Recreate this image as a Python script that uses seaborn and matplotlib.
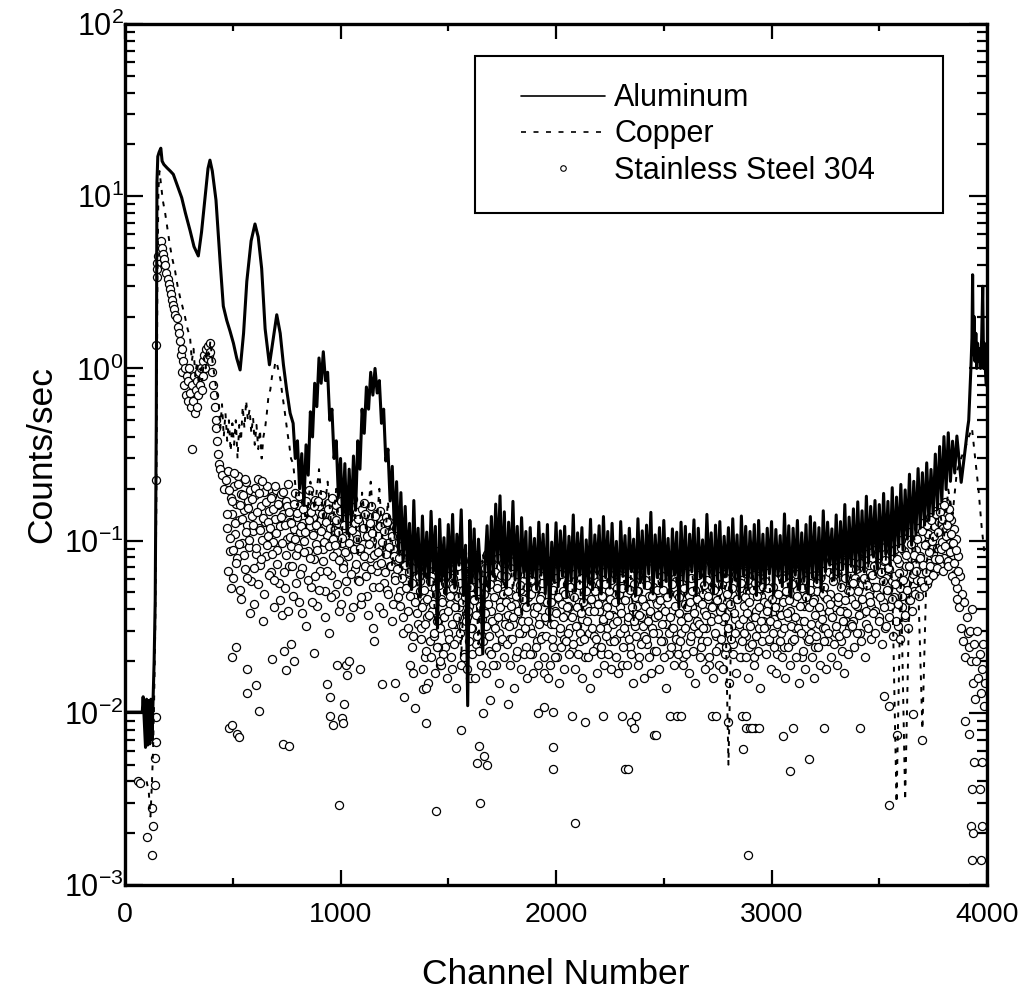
import numpy as np
import matplotlib
matplotlib.use("Agg")
import matplotlib.pyplot as plt
from matplotlib.lines import Line2D
from matplotlib.legend_handler import HandlerLine2D
from matplotlib.ticker import MultipleLocator, LogLocator, NullFormatter
import seaborn as sns

# ---------------- data (counts/sec vs channel) ----------------
# Aluminum: smooth low-channel part (explicit channels)
al_ch_a = [10, 40, 80, 84, 95, 100, 105, 110, 115, 120, 125, 130, 135, 140, 145, 148, 152, 158, 166, 172,
           180, 195, 210, 224, 240, 263, 280, 302, 320, 340, 355, 371, 385, 394, 405, 422, 441, 456, 472, 487,
           503, 518, 534, 550, 565, 585, 603, 618, 634, 650, 670, 688, 704, 720, 735, 750, 766]
al_a = [0.0101, 0.0101, 0.0101, 0.0124, 0.0063, 0.012, 0.0065, 0.0118, 0.0066, 0.012,
        0.007, 0.012, 0.02, 0.045, 0.5, 12.0, 17.0, 18.0, 19.0, 16.0,
        15.3, 14.6, 14.0, 13.4, 11.8, 9.8, 8.0, 6.3, 5.1, 4.5,
        6.2, 9.8, 14.5, 16.2, 14.0, 9.5, 4.2, 2.3, 1.9, 1.65,
        1.4, 1.15, 0.98, 1.6, 3.2, 5.5, 6.9, 5.8, 3.8, 1.7,
        1.05, 1.5, 2.05, 1.6, 1.05, 0.75, 0.55]
# Aluminum: every 10 channels from 780
al_b1 = [0.48, 0.30, 0.38, 0.20, 0.32, 0.16, 0.36, 0.24, 0.56, 0.40,
         0.82, 0.60, 1.15, 0.82, 1.25, 0.85, 0.95, 0.50, 0.58, 0.30,
         0.38, 0.18, 0.30, 0.13, 0.28, 0.11, 0.26, 0.13, 0.31, 0.15,
         0.38, 0.26, 0.58, 0.42, 0.78, 0.58, 0.95, 0.70, 1.00, 0.72,
         0.85, 0.48, 0.58, 0.29, 0.34, 0.17, 0.27, 0.11, 0.22, 0.085,
         0.19, 0.075]
# Aluminum: every 10 channels from 1300
al_b2 = [0.158, 0.071, 0.126, 0.052, 0.171, 0.064, 0.118, 0.047, 0.139, 0.062,
         0.112, 0.055, 0.148, 0.066, 0.121, 0.031, 0.133, 0.058, 0.104, 0.049,
         0.124, 0.061, 0.142, 0.053, 0.109, 0.072, 0.151, 0.048, 0.094, 0.011,
         0.131, 0.057, 0.117, 0.046, 0.102, 0.063, 0.022, 0.069, 0.122, 0.051,
         0.138, 0.062, 0.163, 0.074, 0.182, 0.058, 0.147, 0.053, 0.128, 0.067,
         0.169, 0.059, 0.121, 0.048, 0.136, 0.065, 0.113, 0.042, 0.119, 0.061,
         0.103, 0.052, 0.128, 0.063, 0.109, 0.049, 0.124, 0.034, 0.098, 0.058,
         0.127, 0.054, 0.114, 0.062, 0.121, 0.047, 0.106, 0.059, 0.141, 0.051,
         0.111, 0.063, 0.119, 0.044, 0.101, 0.057, 0.133, 0.052, 0.108, 0.064,
         0.122, 0.049, 0.138, 0.061, 0.113, 0.053, 0.126, 0.058, 0.099, 0.043,
         0.129, 0.062, 0.107, 0.051, 0.118, 0.066, 0.102, 0.048, 0.134, 0.057,
         0.114, 0.053, 0.123, 0.064, 0.146, 0.049, 0.108, 0.061, 0.119, 0.054,
         0.131, 0.058, 0.103, 0.047, 0.117, 0.063, 0.112, 0.041, 0.128, 0.059,
         0.121, 0.052, 0.109, 0.066, 0.132, 0.048, 0.118, 0.061, 0.101, 0.055,
         0.142, 0.064, 0.111, 0.049, 0.123, 0.058, 0.129, 0.053, 0.106, 0.062,
         0.119, 0.051, 0.134, 0.059, 0.108, 0.046, 0.139, 0.063, 0.121, 0.052,
         0.113, 0.061, 0.124, 0.048, 0.131, 0.057, 0.109, 0.053, 0.118, 0.064,
         0.129, 0.049, 0.116, 0.062, 0.107, 0.054, 0.143, 0.059, 0.122, 0.047,
         0.118, 0.063, 0.131, 0.052, 0.111, 0.058, 0.124, 0.049, 0.138, 0.061,
         0.127, 0.057, 0.119, 0.051, 0.149, 0.066, 0.128, 0.072, 0.117, 0.059,
         0.141, 0.062, 0.129, 0.068, 0.162, 0.058, 0.137, 0.071, 0.153, 0.064]
# Aluminum: every 10 channels from 3400
al_b3 = [0.168, 0.071, 0.149, 0.066, 0.181, 0.074, 0.158, 0.082, 0.171, 0.069,
         0.162, 0.077, 0.188, 0.083, 0.169, 0.072, 0.203, 0.081, 0.179, 0.092,
         0.212, 0.088, 0.197, 0.102, 0.243, 0.094, 0.221, 0.108, 0.262, 0.118,
         0.248, 0.123, 0.283, 0.131, 0.259, 0.142, 0.318, 0.152, 0.352, 0.168,
         0.402, 0.198, 0.423, 0.221, 0.378, 0.247, 0.405, 0.296, 0.218, 0.276,
         0.352, 0.452]
# Aluminum: end-of-range peak
al_ch_c = [3915, 3920, 3925, 3930, 3933, 3936, 3940, 3944, 3948, 3952,
           3956, 3960, 3965, 3970, 3975, 3980, 3984, 3988, 3992, 3996]
al_c = [0.5, 0.7, 1.0, 1.5, 3.5, 1.2, 2.0, 1.1, 1.6, 1.0,
        1.4, 1.1, 1.3, 1.0, 1.5, 3.0, 1.0, 1.4, 1.0, 0.8]

# Copper
cu_ch_a = [100, 110, 118, 125, 130, 135, 140, 145, 150, 155, 160, 166, 175, 186, 198, 209, 220, 232, 244, 255,
           266, 278, 290, 302, 310, 318, 326, 334, 342, 350, 358, 366, 374, 382, 390, 396, 402, 410, 418, 426,
           434, 442, 450, 458, 466, 474, 482, 490, 498, 506, 514, 522, 530, 538, 546, 554, 562, 570, 578, 586,
           594, 602, 610, 618, 626, 634, 642, 650, 658, 666, 674, 682, 690, 698, 706, 714, 722, 730, 738, 746,
           754, 762, 770]
cu_a = [0.004, 0.0035, 0.0025, 0.004, 0.006, 0.012, 0.03, 0.15, 3.0, 11.0,
        14.0, 12.0, 9.5, 8.0, 6.3, 5.1, 4.3, 3.7, 3.0, 2.6,
        2.3, 2.0, 1.7, 1.5, 1.1, 1.3, 0.9, 1.1, 0.8, 1.0,
        0.85, 1.15, 1.0, 1.3, 1.2, 1.45, 1.2, 1.0, 0.85, 0.72,
        0.65, 0.45, 0.62, 0.4, 0.55, 0.38, 0.5, 0.33, 0.48, 0.36,
        0.5, 0.3, 0.47, 0.38, 0.6, 0.45, 0.65, 0.5, 0.58, 0.42,
        0.52, 0.36, 0.47, 0.34, 0.44, 0.3, 0.4, 0.45, 0.55, 0.7,
        0.75, 0.9, 0.95, 1.1, 1.05, 0.95, 0.85, 0.7, 0.6, 0.5,
        0.42, 0.36, 0.3]
# Copper: every 20 channels from 780
cu_b1 = [0.28, 0.16, 0.24, 0.12, 0.22, 0.15, 0.26, 0.13, 0.22, 0.11,
         0.20, 0.09, 0.18, 0.10, 0.21, 0.08, 0.19, 0.11, 0.22, 0.09,
         0.20, 0.08, 0.17, 0.07, 0.15, 0.06]
# Copper: every 20 channels from 1300
cu_b2 = [0.092, 0.052, 0.104, 0.046, 0.083, 0.058, 0.112, 0.032, 0.094, 0.049,
         0.101, 0.055, 0.086, 0.021, 0.093, 0.047, 0.108, 0.025, 0.084, 0.053,
         0.094, 0.057, 0.118, 0.048, 0.102, 0.051, 0.087, 0.036, 0.091, 0.054,
         0.083, 0.049, 0.104, 0.056, 0.092, 0.047, 0.085, 0.052, 0.101, 0.045,
         0.089, 0.038, 0.082, 0.053, 0.103, 0.048, 0.094, 0.055, 0.081, 0.046,
         0.099, 0.051, 0.084, 0.034, 0.093, 0.057, 0.106, 0.049, 0.082, 0.052,
         0.091, 0.047, 0.102, 0.055, 0.086, 0.039, 0.095, 0.051, 0.104, 0.048,
         0.083, 0.054, 0.092, 0.046, 0.101, 0.005, 0.087, 0.053, 0.094, 0.048,
         0.103, 0.052, 0.081, 0.047, 0.096, 0.036, 0.105, 0.054, 0.084, 0.049,
         0.093, 0.051, 0.107, 0.045, 0.088, 0.056, 0.097, 0.048, 0.102, 0.058,
         0.095, 0.053, 0.112, 0.047, 0.104, 0.059, 0.093, 0.051, 0.113, 0.062,
         0.104, 0.049, 0.121, 0.057, 0.003, 0.064, 0.0031, 0.052, 0.112, 0.058,
         0.008, 0.074, 0.121, 0.083, 0.152, 0.104, 0.198, 0.142, 0.252, 0.302]
cu_ch_c = [3900, 3915, 3930, 3945, 3960, 3975, 3990]
cu_c = [0.35, 0.40, 0.45, 0.30, 0.20, 0.12, 0.08]

# Stainless steel 304: low channels and first peak (explicit channels)
ss_ch_a = [60, 70, 100, 124, 125, 132, 138, 140, 142, 143, 144, 144, 146, 147, 150, 155, 160, 165, 170, 175,
           180, 186, 192, 198, 204, 209, 214, 219, 224, 229, 234, 240, 245, 250, 255, 258, 262, 266, 270, 274,
           278, 282, 286, 290, 294, 298, 302, 306, 309, 312, 316, 320, 324, 328, 332, 336, 340, 344, 348, 352,
           356, 360, 364, 368, 372, 376, 380, 384, 388, 392, 396, 400, 404, 408, 412, 416, 420, 424, 428, 432,
           436, 440, 450, 460]
ss_a = [0.004, 0.0039, 0.0019, 0.0015, 0.0028, 0.0022, 0.0038, 0.0055, 0.0068, 0.0095,
        0.225, 1.37, 3.4, 4.1, 3.8, 4.5, 4.8, 5.5, 5.0, 4.6,
        4.3, 4.0, 3.6, 3.3, 3.1, 2.9, 2.7, 2.5, 2.35, 2.2,
        2.05, 1.95, 1.75, 1.6, 1.45, 1.2, 1.3, 0.95, 1.1, 0.8,
        1.0, 0.7, 0.9, 0.65, 0.85, 1.0, 0.72, 0.6, 0.34, 0.8,
        0.65, 0.9, 0.55, 0.75, 0.6, 0.85, 0.7, 0.95, 0.8, 1.0,
        0.75, 1.1, 0.9, 1.2, 1.0, 1.3, 1.15, 1.35, 1.2, 1.4,
        1.25, 1.1, 0.95, 0.8, 0.7, 0.6, 0.5, 0.45, 0.38, 0.32,
        0.28, 0.26, 0.24, 0.2]
# Stainless steel: every 5 channels from 470
ss_b1 = [0.224, 0.118, 0.253, 0.087, 0.176, 0.142, 0.061, 0.208, 0.109, 0.163, 0.079, 0.236, 0.131, 0.052, 0.187, 0.097, 0.151, 0.068, 0.219, 0.123,
         0.171, 0.092, 0.198, 0.058, 0.139, 0.113, 0.043, 0.183, 0.084, 0.227, 0.119, 0.072, 0.158, 0.101, 0.034, 0.192, 0.128, 0.081, 0.209, 0.107,
         0.148, 0.066, 0.181, 0.098, 0.041, 0.134, 0.197, 0.088, 0.162, 0.057, 0.121, 0.186, 0.037, 0.143, 0.053, 0.169, 0.102, 0.214, 0.071, 0.129,
         0.093, 0.157, 0.048, 0.117, 0.189, 0.083, 0.138, 0.044, 0.112, 0.176, 0.069, 0.127, 0.099, 0.168, 0.032, 0.149, 0.087, 0.196, 0.121, 0.054,
         0.137, 0.078, 0.172, 0.096, 0.042, 0.118, 0.158, 0.067, 0.131, 0.184, 0.089, 0.146, 0.051, 0.108, 0.166, 0.029, 0.141, 0.063, 0.178, 0.102,
         0.116, 0.049, 0.161, 0.086, 0.127, 0.039, 0.169, 0.097, 0.073, 0.148, 0.106, 0.058, 0.157, 0.081, 0.124, 0.036, 0.139, 0.091, 0.174, 0.068,
         0.109, 0.147, 0.059, 0.128, 0.087, 0.043, 0.152, 0.096, 0.166, 0.071, 0.119, 0.048, 0.137, 0.079, 0.158, 0.099, 0.031, 0.126, 0.084, 0.143,
         0.067, 0.118, 0.041, 0.149, 0.088, 0.127, 0.057, 0.106, 0.138, 0.052, 0.097, 0.129, 0.071, 0.113, 0.034, 0.089, 0.121, 0.062, 0.108, 0.077,
         0.098, 0.051, 0.117, 0.066, 0.029, 0.087, 0.109, 0.058, 0.078, 0.039, 0.096, 0.069, 0.024, 0.083, 0.047, 0.092, 0.061, 0.076, 0.033, 0.072]
# Stainless steel: every 5 channels from 1370
ss_b2 = [0.058, 0.031, 0.077, 0.044, 0.021, 0.068, 0.036, 0.083, 0.049, 0.026, 0.062, 0.039, 0.073, 0.028, 0.053, 0.087, 0.034, 0.064, 0.019, 0.046,
         0.074, 0.038, 0.059, 0.024, 0.081, 0.051, 0.029, 0.069, 0.043, 0.018, 0.061, 0.078, 0.033, 0.048, 0.027, 0.071, 0.041, 0.057, 0.032, 0.085,
         0.052, 0.022, 0.067, 0.036, 0.058, 0.042, 0.016, 0.076, 0.031, 0.054, 0.046, 0.082, 0.025, 0.063, 0.037, 0.049, 0.072, 0.028, 0.059, 0.041,
         0.069, 0.032, 0.084, 0.047, 0.023, 0.061, 0.039, 0.077, 0.034, 0.066, 0.019, 0.056, 0.079, 0.029, 0.044, 0.063, 0.026, 0.074, 0.051, 0.036,
         0.062, 0.037, 0.081, 0.027, 0.049, 0.071, 0.033, 0.076, 0.043, 0.021, 0.064, 0.038, 0.083, 0.052, 0.029, 0.058, 0.042, 0.073, 0.024, 0.054,
         0.047, 0.068, 0.031, 0.059, 0.022, 0.079, 0.041, 0.053, 0.026, 0.072, 0.036, 0.077, 0.048, 0.028, 0.062, 0.017, 0.044, 0.071, 0.034, 0.058,
         0.076, 0.033, 0.052, 0.024, 0.067, 0.039, 0.061, 0.021, 0.082, 0.046, 0.029, 0.064, 0.051, 0.027, 0.073, 0.037, 0.056, 0.042, 0.069, 0.031,
         0.049, 0.023, 0.071, 0.038, 0.058, 0.032, 0.084, 0.044, 0.026, 0.061, 0.035, 0.074, 0.052, 0.021, 0.066, 0.041, 0.079, 0.029, 0.055, 0.046,
         0.063, 0.028, 0.073, 0.048, 0.024, 0.068, 0.039, 0.057, 0.022, 0.066, 0.034, 0.081, 0.043, 0.031, 0.076, 0.051, 0.026, 0.059, 0.037, 0.078,
         0.036, 0.064, 0.027, 0.053, 0.074, 0.041, 0.061, 0.019, 0.069, 0.047, 0.029, 0.083, 0.049, 0.034, 0.058, 0.024, 0.072, 0.039, 0.056, 0.032,
         0.068, 0.042, 0.051, 0.021, 0.063, 0.036, 0.079, 0.044, 0.028, 0.059, 0.025, 0.076, 0.048, 0.038, 0.082, 0.031, 0.054, 0.023, 0.071, 0.045,
         0.052, 0.029, 0.077, 0.041, 0.062, 0.026, 0.069, 0.047, 0.033, 0.084, 0.049, 0.022, 0.066, 0.039, 0.031, 0.073, 0.053, 0.058, 0.024, 0.081,
         0.038, 0.067, 0.029, 0.056, 0.021, 0.074, 0.043, 0.036, 0.071, 0.048, 0.026, 0.061, 0.041, 0.085, 0.032, 0.052, 0.078, 0.034, 0.063, 0.044,
         0.072, 0.026, 0.049, 0.039, 0.081, 0.031, 0.059, 0.046, 0.019, 0.076, 0.036, 0.054, 0.042, 0.067, 0.028, 0.079, 0.051, 0.024, 0.062, 0.038,
         0.056, 0.034, 0.071, 0.022, 0.061, 0.044, 0.029, 0.077, 0.041, 0.049, 0.025, 0.083, 0.035, 0.064, 0.046, 0.068, 0.031, 0.053, 0.021, 0.066,
         0.042, 0.074, 0.028, 0.051, 0.059, 0.024, 0.082, 0.047, 0.036, 0.063, 0.021, 0.057, 0.039, 0.069, 0.031, 0.061, 0.048, 0.077, 0.034, 0.044,
         0.058, 0.032, 0.072, 0.043, 0.026, 0.078, 0.038, 0.054, 0.035, 0.086, 0.049, 0.022, 0.066, 0.041, 0.074, 0.029, 0.061, 0.046, 0.024, 0.069,
         0.051, 0.036, 0.076, 0.039, 0.062, 0.026, 0.071, 0.044, 0.031, 0.064, 0.052, 0.081, 0.034, 0.056, 0.021, 0.073, 0.042, 0.059, 0.028, 0.048,
         0.068, 0.041, 0.057, 0.029, 0.079, 0.046, 0.024, 0.063, 0.051, 0.087, 0.033, 0.061, 0.038, 0.074, 0.031, 0.054, 0.047, 0.082, 0.026, 0.066,
         0.049, 0.077, 0.036, 0.062, 0.041, 0.083, 0.029, 0.067, 0.044, 0.071, 0.026, 0.056, 0.086, 0.039, 0.061, 0.034, 0.076, 0.052, 0.031, 0.069]
# Stainless steel: every 5 channels from 3370
ss_b3 = [0.046, 0.082, 0.034, 0.061, 0.091, 0.042, 0.069, 0.053, 0.029, 0.087, 0.056, 0.038, 0.077, 0.059, 0.033, 0.093, 0.048, 0.066, 0.041, 0.079,
         0.054, 0.098, 0.039, 0.072, 0.049, 0.086, 0.036, 0.064, 0.092, 0.044, 0.076, 0.031, 0.061, 0.104, 0.052, 0.068, 0.042, 0.096, 0.058, 0.081,
         0.047, 0.089, 0.062, 0.032, 0.074, 0.053, 0.101, 0.041, 0.066, 0.087, 0.036, 0.071, 0.057, 0.112, 0.045, 0.079, 0.061, 0.094, 0.051, 0.072,
         0.088, 0.059, 0.118, 0.052, 0.081, 0.103, 0.064, 0.127, 0.071, 0.096, 0.056, 0.109, 0.074, 0.138, 0.062, 0.099, 0.084, 0.121, 0.066, 0.148,
         0.091, 0.128, 0.072, 0.157, 0.098, 0.119, 0.079, 0.168, 0.107, 0.141, 0.076, 0.152, 0.097, 0.131, 0.083, 0.117, 0.064, 0.102, 0.053, 0.081,
         0.041, 0.062, 0.031, 0.049, 0.026, 0.044, 0.021, 0.036, 0.029, 0.024]
# Stainless steel: the in-between channels, every 5 channels from 472
ss_e1 = [0.142, 0.067, 0.196, 0.104, 0.053, 0.171, 0.088, 0.247, 0.126, 0.074, 0.213, 0.095, 0.161, 0.046, 0.133, 0.184, 0.082, 0.229, 0.112, 0.061,
         0.154, 0.101, 0.038, 0.175, 0.123, 0.069, 0.203, 0.091, 0.147, 0.056, 0.188, 0.116, 0.078, 0.221, 0.135, 0.049, 0.167, 0.094, 0.128, 0.063,
         0.119, 0.178, 0.084, 0.152, 0.059, 0.207, 0.111, 0.073, 0.164, 0.045, 0.138, 0.097, 0.191, 0.066, 0.124, 0.083, 0.158, 0.039, 0.146, 0.105,
         0.127, 0.071, 0.163, 0.102, 0.057, 0.144, 0.091, 0.182, 0.064, 0.121, 0.038, 0.153, 0.086, 0.112, 0.171, 0.059, 0.132, 0.079, 0.147, 0.044,
         0.108, 0.159, 0.062, 0.124, 0.088, 0.171, 0.052, 0.113, 0.143, 0.076, 0.098, 0.036, 0.129, 0.067, 0.152, 0.093, 0.118, 0.047, 0.137, 0.081,
         0.094, 0.131, 0.056, 0.112, 0.077, 0.149, 0.043, 0.103, 0.069, 0.124, 0.086, 0.158, 0.051, 0.097, 0.136, 0.064, 0.115, 0.041, 0.089, 0.127,
         0.073, 0.102, 0.134, 0.058, 0.091, 0.047, 0.118, 0.081, 0.143, 0.062, 0.107, 0.037, 0.095, 0.126, 0.068, 0.111, 0.054, 0.083, 0.139, 0.072,
         0.086, 0.054, 0.121, 0.074, 0.098, 0.038, 0.113, 0.066, 0.084, 0.128, 0.049, 0.092, 0.071, 0.106, 0.043, 0.081, 0.059, 0.118, 0.068, 0.047,
         0.079, 0.042, 0.093, 0.061, 0.036, 0.072, 0.053, 0.087, 0.031, 0.066, 0.048, 0.081, 0.057, 0.028, 0.069, 0.044, 0.076, 0.038, 0.062, 0.051]
# Stainless steel: the in-between channels, every 5 channels from 1372
ss_e2 = [0.027, 0.041, 0.018, 0.052, 0.033, 0.023, 0.046, 0.015, 0.037, 0.058, 0.021, 0.043, 0.029, 0.017, 0.049, 0.034, 0.024, 0.055, 0.031, 0.019,
         0.044, 0.022, 0.036, 0.057, 0.016, 0.039, 0.027, 0.048, 0.021, 0.033, 0.053, 0.025, 0.041, 0.014, 0.036, 0.047, 0.029, 0.019, 0.044, 0.032,
         0.021, 0.047, 0.034, 0.018, 0.039, 0.026, 0.054, 0.031, 0.022, 0.045, 0.016, 0.037, 0.028, 0.051, 0.023, 0.042, 0.019, 0.035, 0.026, 0.049,
         0.038, 0.017, 0.043, 0.028, 0.056, 0.022, 0.034, 0.019, 0.047, 0.031, 0.024, 0.053, 0.036, 0.015, 0.041, 0.027, 0.049, 0.021, 0.033, 0.044,
         0.025, 0.051, 0.032, 0.019, 0.042, 0.027, 0.036, 0.014, 0.048, 0.023, 0.039, 0.029, 0.055, 0.018, 0.034, 0.046, 0.022, 0.031, 0.041, 0.016,
         0.034, 0.022, 0.049, 0.029, 0.017, 0.038, 0.053, 0.024, 0.041, 0.019, 0.033, 0.046, 0.027, 0.057, 0.021, 0.036, 0.028, 0.044, 0.016, 0.039,
         0.019, 0.044, 0.027, 0.052, 0.033, 0.021, 0.038, 0.047, 0.015, 0.031, 0.024, 0.043, 0.036, 0.018, 0.049, 0.026, 0.041, 0.029, 0.022, 0.054,
         0.036, 0.025, 0.047, 0.018, 0.032, 0.041, 0.022, 0.055, 0.029, 0.038, 0.016, 0.044, 0.027, 0.051, 0.034, 0.021, 0.039, 0.014, 0.046, 0.031,
         0.023, 0.039, 0.051, 0.027, 0.017, 0.043, 0.031, 0.024, 0.048, 0.035, 0.019, 0.056, 0.028, 0.041, 0.022, 0.037, 0.046, 0.018, 0.033, 0.026,
         0.044, 0.021, 0.034, 0.017, 0.049, 0.029, 0.038, 0.053, 0.024, 0.031, 0.045, 0.019, 0.036, 0.027, 0.052, 0.022, 0.041, 0.015, 0.034, 0.047,
         0.028, 0.051, 0.019, 0.037, 0.025, 0.046, 0.032, 0.016, 0.042, 0.027, 0.055, 0.034, 0.021, 0.039, 0.017, 0.048, 0.029, 0.036, 0.023, 0.043,
         0.037, 0.018, 0.045, 0.026, 0.033, 0.052, 0.021, 0.039, 0.014, 0.047, 0.029, 0.036, 0.024, 0.056, 0.031, 0.019, 0.042, 0.027, 0.049, 0.022,
         0.047, 0.026, 0.034, 0.019, 0.053, 0.031, 0.022, 0.041, 0.036, 0.017, 0.044, 0.028, 0.051, 0.023, 0.038, 0.015, 0.046, 0.029, 0.033, 0.021,
         0.024, 0.043, 0.031, 0.055, 0.018, 0.037, 0.026, 0.048, 0.021, 0.034, 0.041, 0.016, 0.052, 0.029, 0.023, 0.045, 0.035, 0.019, 0.039, 0.027,
         0.041, 0.018, 0.036, 0.024, 0.049, 0.031, 0.015, 0.043, 0.027, 0.053, 0.022, 0.038, 0.029, 0.017, 0.046, 0.033, 0.021, 0.057, 0.026, 0.035,
         0.029, 0.047, 0.021, 0.038, 0.016, 0.044, 0.032, 0.025, 0.052, 0.019, 0.036, 0.028, 0.048, 0.023, 0.041, 0.014, 0.034, 0.026, 0.054, 0.031,
         0.022, 0.039, 0.053, 0.027, 0.034, 0.018, 0.046, 0.029, 0.024, 0.041, 0.017, 0.033, 0.049, 0.026, 0.037, 0.021, 0.044, 0.031, 0.016, 0.051,
         0.038, 0.024, 0.045, 0.019, 0.032, 0.056, 0.027, 0.036, 0.021, 0.048, 0.031, 0.015, 0.042, 0.029, 0.053, 0.023, 0.034, 0.018, 0.047, 0.026,
         0.027, 0.052, 0.033, 0.021, 0.044, 0.016, 0.037, 0.028, 0.057, 0.024, 0.041, 0.019, 0.035, 0.049, 0.026, 0.031, 0.018, 0.046, 0.029, 0.039,
         0.043, 0.021, 0.036, 0.058, 0.025, 0.032, 0.019, 0.047, 0.028, 0.039, 0.054, 0.023, 0.034, 0.017, 0.045, 0.029, 0.038, 0.022, 0.051, 0.033]
# Stainless steel: the in-between channels, every 5 channels from 3372
ss_e3 = [0.032, 0.057, 0.024, 0.043, 0.068, 0.029, 0.051, 0.037, 0.074, 0.026, 0.046, 0.061, 0.021, 0.039, 0.055, 0.031, 0.072, 0.044, 0.027, 0.063,
         0.038, 0.071, 0.029, 0.054, 0.083, 0.034, 0.047, 0.066, 0.025, 0.058, 0.041, 0.077, 0.032, 0.052, 0.069, 0.036, 0.087, 0.046, 0.028, 0.062,
         0.056, 0.034, 0.078, 0.043, 0.065, 0.027, 0.091, 0.048, 0.059, 0.037, 0.082, 0.052, 0.031, 0.071, 0.045, 0.096, 0.039, 0.064, 0.083, 0.049,
         0.067, 0.102, 0.048, 0.079, 0.058, 0.113, 0.072, 0.054, 0.094, 0.066, 0.124, 0.059, 0.086, 0.071, 0.132, 0.063, 0.107, 0.078, 0.142, 0.069,
         0.112, 0.078, 0.146, 0.089, 0.134, 0.067, 0.161, 0.093, 0.124, 0.071, 0.138, 0.086, 0.109, 0.062, 0.097, 0.074, 0.058, 0.088, 0.046, 0.067]
# Stainless steel: scattered low points and the end-of-range channels
ss_ch_o = [483, 498, 518, 528, 565, 610, 622, 497, 517, 567, 683, 738, 749, 735, 761, 770, 783, 878, 936, 951,
           951, 967, 1006, 1013, 1018, 993, 982, 1025, 1029, 1037, 1091, 1153, 1191, 1253, 1295, 1346, 1323, 1338, 1382, 1397,
           1397, 1443, 1446, 1461, 1558, 1643, 1632, 1667, 1678, 1645, 1660, 1694, 1776, 1914, 1942, 1985, 1985, 1988, 2072, 2088,
           2134, 2219, 2307, 2347, 2362, 2373, 2319, 2332, 2454, 2463, 2528, 2559, 2582, 2722, 2740, 2796, 2861, 2880, 2883, 2899,
           2922, 2867, 2891, 2909, 2942, 3055, 3101, 3086, 3175, 3244, 3411, 3545, 3581, 3697, 3658, 3520, 3545, 3900, 3915, 3938,
           3978, 3930, 3965, 3925, 3935, 3975, 3932, 3972, 3920, 3925, 3930, 3935, 3940, 3945, 3950, 3955, 3960, 3965, 3970, 3975,
           3980, 3985, 3990]
ss_o = [0.0082, 0.0085, 0.0075, 0.0072, 0.0131, 0.0146, 0.0102, 0.021, 0.024, 0.018, 0.0206, 0.023, 0.0178, 0.0066, 0.0064, 0.025, 0.02, 0.0224, 0.0148, 0.0123,
        0.0096, 0.0085, 0.0093, 0.0087, 0.0113, 0.0029, 0.019, 0.019, 0.0166, 0.02, 0.018, 0.026, 0.0148, 0.015, 0.0124, 0.0107, 0.019, 0.017, 0.0138, 0.014,
        0.0087, 0.0027, 0.024, 0.02, 0.008, 0.0064, 0.0051, 0.0056, 0.005, 0.003, 0.01, 0.0118, 0.0113, 0.01, 0.0108, 0.0101, 0.0063, 0.0047, 0.0096, 0.0023,
        0.0088, 0.0096, 0.0096, 0.0089, 0.0082, 0.0096, 0.0047, 0.0047, 0.0074, 0.0074, 0.0096, 0.0096, 0.0096, 0.0096, 0.0096, 0.0088, 0.0096, 0.0096, 0.0082, 0.0082,
        0.0082, 0.0062, 0.0015, 0.0082, 0.0082, 0.0073, 0.0082, 0.0046, 0.0054, 0.0082, 0.0082, 0.0029, 0.0074, 0.007, 0.0098, 0.0125, 0.011, 0.009, 0.0075, 0.0052,
        0.0052, 0.0036, 0.0036, 0.0022, 0.002, 0.0022, 0.0014, 0.0014, 0.03, 0.02, 0.04, 0.015, 0.025, 0.012, 0.02, 0.03, 0.016, 0.022, 0.013, 0.018,
        0.025, 0.011, 0.015]

labels = ["Aluminum", "Copper", "Stainless Steel 304"]

# ---------------- assemble series ----------------
al_x = np.concatenate([al_ch_a, 780 + 10 * np.arange(len(al_b1)), 1300 + 10 * np.arange(len(al_b2)),
                       3400 + 10 * np.arange(len(al_b3)), al_ch_c])
al_y = np.concatenate([al_a, al_b1, al_b2, al_b3, al_c])
cu_x = np.concatenate([cu_ch_a, 780 + 20 * np.arange(len(cu_b1)), 1300 + 20 * np.arange(len(cu_b2)), cu_ch_c])
cu_y = np.concatenate([cu_a, cu_b1, cu_b2, cu_c])
ss_x = np.concatenate([ss_ch_a,
                       470 + 5 * np.arange(len(ss_b1)), 1370 + 5 * np.arange(len(ss_b2)), 3370 + 5 * np.arange(len(ss_b3)),
                       472 + 5 * np.arange(len(ss_e1)), 1372 + 5 * np.arange(len(ss_e2)), 3372 + 5 * np.arange(len(ss_e3)),
                       ss_ch_o])
ss_y = np.concatenate([ss_a, ss_b1, ss_b2, ss_b3, ss_e1, ss_e2, ss_e3, ss_o])

# ---------------- plot ----------------
sns.set_style("ticks")
plt.rcParams['font.family'] = ['Liberation Sans', 'DejaVu Sans']
plt.rcParams['mathtext.default'] = 'regular'
plt.rcParams['axes.unicode_minus'] = False
plt.rcParams['text.color'] = 'black'
plt.rcParams['axes.labelcolor'] = 'black'

fig = plt.figure(figsize=(10.3, 9.97), dpi=100)
ax = fig.add_axes([0.1214, 0.1123, 0.8369, 0.8636])
ax.set_yscale('log')

# circles underneath, lines drawn over them
sns.scatterplot(x=ss_x, y=ss_y, ax=ax, marker='o', s=34, facecolor='white',
                edgecolor='black', linewidth=0.9, zorder=1)
sns.lineplot(x=cu_x, y=cu_y, ax=ax, color='black', lw=1.4, linestyle=(0, (2.5, 3.5)),
             estimator=None, sort=False, zorder=2)
sns.lineplot(x=al_x, y=al_y, ax=ax, color='black', lw=2.2, estimator=None, sort=False, zorder=3)

ax.set_xlim(0, 4000)
ax.set_ylim(1e-3, 1e2)
ax.xaxis.set_major_locator(MultipleLocator(1000))
ax.xaxis.set_minor_locator(MultipleLocator(500))
ax.yaxis.set_minor_locator(LogLocator(base=10, subs=np.arange(2, 10)))
ax.yaxis.set_minor_formatter(NullFormatter())

ax.tick_params(which='both', direction='in', top=True, right=True, width=1.6, colors='black')
ax.tick_params(axis='x', which='major', length=11, labelsize=20.5, pad=12)
ax.tick_params(axis='x', which='minor', length=5)
ax.tick_params(axis='y', which='major', length=13, labelsize=22, pad=1)
ax.tick_params(axis='y', which='minor', length=7)
for sp in ax.spines.values():
    sp.set_linewidth(2.4)
    sp.set_color('black')
    sp.set_zorder(5)

ax.set_xlabel('Channel Number', fontsize=25.5, labelpad=22)
ax.set_ylabel('Counts/sec', fontsize=25.5, labelpad=4)

handles = [Line2D([], [], color='black', lw=1.2),
           Line2D([], [], color='black', lw=1.2, linestyle=(0, (3, 4.5))),
           Line2D([], [], color='black', marker='o', ms=4, mfc='white', mew=0.8, ls='none')]
hmap = {h: HandlerLine2D(xpad=0.6) for h in handles}
leg = ax.legend(handles, labels, loc='upper left', bbox_to_anchor=(0.406, 0.5, 0.543, 0.463),
                mode='expand', fontsize=22, handlelength=3.35, handletextpad=0.3, labelspacing=0.2,
                borderpad=0.9, fancybox=False, framealpha=1, edgecolor='black', handler_map=hmap,
                borderaxespad=0)
leg.get_frame().set_linewidth(1.5)
leg.set_zorder(6)

fig.savefig('out.png', dpi=100)
